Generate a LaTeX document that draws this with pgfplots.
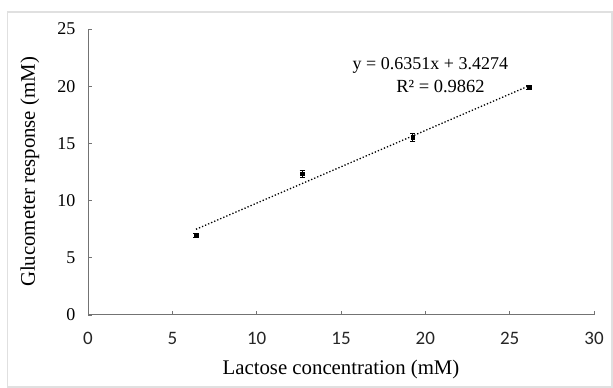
\documentclass[border=0pt]{standalone}
\usepackage{pgfplots}
\pgfplotsset{compat=1.18}
\usepackage{fontspec}
\setmainfont{Liberation Serif}
\newfontfamily\calib{Carlito}
\begin{document}
\begin{tikzpicture}[x=1pt,y=1pt]
\useasboundingbox (0,0) rectangle (613,388);
\fill[white] (0,0) rectangle (613,388);
\draw[black!12, line width=1.2pt] (7.5,1) rectangle (612,376);
\begin{axis}[
  at={(88pt,73pt)}, anchor=south west,
  scale only axis, width=506pt, height=286pt,
  xmin=0, xmax=30, ymin=0, ymax=25,
  axis x line=bottom, axis y line=left,
  axis line style={-, black!55, line width=1pt},
  xtick={0,5,...,30}, ytick={0,5,...,25},
  tick align=inside, major tick length=4pt,
  tick style={black!55, line width=0.8pt},
  /pgf/number format/assume math mode=true,
  xticklabel style={font=\calib\fontsize{19}{19}\selectfont, color=black!85, yshift=-14pt},
  yticklabel style={font=\fontsize{18}{18}\selectfont, xshift=-9pt},
  xlabel={Lactose concentration (mM)},
  ylabel={Glucometer response (mM)},
  label style={font=\fontsize{20.8}{21}\selectfont},
  xlabel style={at={(axis description cs:0.5,0)}, anchor=center, yshift=-54pt},
  ylabel style={at={(axis description cs:-0.115,0.5)}, anchor=center},
  clip=false,
]
\addplot[black, only marks, mark=square*, mark size=1.8pt,
  error bars/.cd, y dir=both, y explicit, error bar style={black, line width=0.6pt},
  error mark options={rotate=90, mark size=2.6pt, line width=0.6pt}]
  table[x=x, y=y, y error=e] {
x y e
6.4 6.95 0.2
12.7 12.35 0.3
19.25 15.55 0.35
26.15 19.9 0.2
};
\addplot[black, dotted, line width=1.3pt] coordinates {(6.4,7.492) (26.15,20.036)};
\node[font=\fontsize{18}{18}\selectfont] at (axis cs:20.3,21.85) {y = 0.6351x + 3.4274};
\node[font=\fontsize{18.5}{18}\selectfont] at (axis cs:20.9,20.0) {R² = 0.9862};
\end{axis}
\end{tikzpicture}
\end{document}
